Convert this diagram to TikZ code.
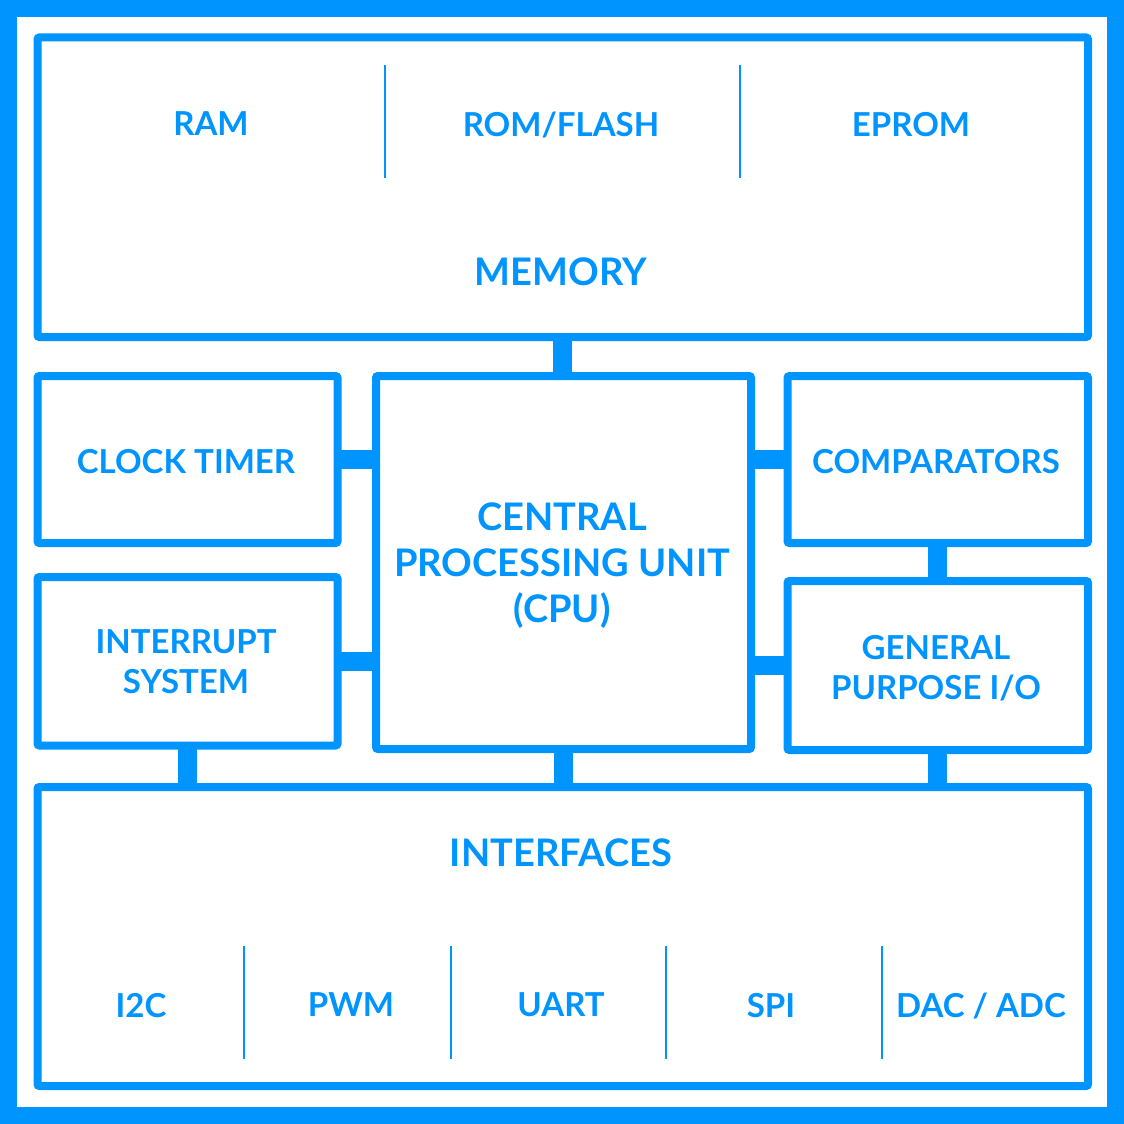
\documentclass[tikz,border=0pt]{standalone}
\usepackage{fontspec}
\setmainfont{Lato}
\definecolor{blu}{RGB}{0,148,255}
\begin{document}
\begin{tikzpicture}[x=1pt,y=-1pt,
  box/.style={draw=blu,line width=8pt,fill=white,rounded corners=2pt,outer sep=0pt,inner sep=0pt},
  conn/.style={draw=blu,line width=19pt},
  divl/.style={draw=blu,line width=2.5pt},
  lab/.style={text=blu,font=\fontsize{33}{40}\selectfont\bfseries,align=center,inner sep=0pt,text depth=0pt},
  big/.style={text=blu,font=\fontsize{38}{46}\selectfont\bfseries,align=center,inner sep=0pt,text depth=0pt}]
\useasboundingbox (0,0) rectangle (1124,1124);
\draw[blu,line width=17pt] (8.5,8.5) rectangle (1115.5,1115.5);
\node[box,minimum width=1050.5pt,minimum height=299.5pt] (mem) at (562.75,187.25) {};
\node[box,minimum width=300pt,minimum height=167pt] (clock) at (187.5,459.5) {};
\node[box,minimum width=300pt,minimum height=168.5pt] (intr) at (187.5,661.25) {};
\node[box,minimum width=375pt,minimum height=373pt] (cpu) at (563.5,562.5) {};
\node[box,minimum width=300.5pt,minimum height=167pt] (comp) at (937.75,459.5) {};
\node[box,minimum width=300.5pt,minimum height=169pt] (gpio) at (937.75,665.5) {};
\node[box,minimum width=1050.5pt,minimum height=299pt] (intf) at (562.75,936.5) {};
\draw[conn] (mem.south) -- (mem.south |- cpu.north);
\draw[conn] (clock.east) -- (clock.east -| cpu.west);
\draw[conn] (intr.east) -- (intr.east -| cpu.west);
\draw[conn] (comp.west) -- (comp.west -| cpu.east);
\draw[conn] (gpio.west) -- (gpio.west -| cpu.east);
\draw[conn] (comp.south) -- (gpio.north);
\draw[conn] (intr.south) -- (intr.south |- intf.north);
\draw[conn] (cpu.south) -- (cpu.south |- intf.north);
\draw[conn] (gpio.south) -- (gpio.south |- intf.north);
\draw[divl] (385,65) -- (385,178);
\draw[divl] (740,65) -- (740,178);
\draw[divl] (244,946) -- (244,1059);
\draw[divl] (451,946) -- (451,1059);
\draw[divl] (666,946) -- (666,1059);
\draw[divl] (882,946) -- (882,1059);
\node[lab] (tram) at (211,124) {RAM};
\node[lab] (trom) at (561,124) {ROM/FLASH};
\node[lab] (tep) at (911,124) {EPROM};
\node[big] (tmem) at (561,272) {MEMORY};
\node[lab] (tclk) at (186,461) {CLOCK TIMER};
\node[lab] (tcmp) at (936,461) {COMPARATORS};
\node[big] (tcpu) at (562,563) {CENTRAL\\PROCESSING UNIT\\(CPU)};
\node[lab] (tint) at (186,662) {INTERRUPT\\SYSTEM};
\node[lab] (tgp) at (936,667) {GENERAL\\PURPOSE I/O};
\node[big] (tif) at (561,853) {INTERFACES};
\node[lab] (ti2c) at (141,1005) {I2C};
\node[lab] (tpwm) at (351,1005) {PWM};
\node[lab] (tuart) at (561,1005) {UART};
\node[lab] (tspi) at (771,1005) {SPI};
\node[lab] (tdac) at (981,1005) {DAC / ADC};
\end{tikzpicture}
\end{document}
